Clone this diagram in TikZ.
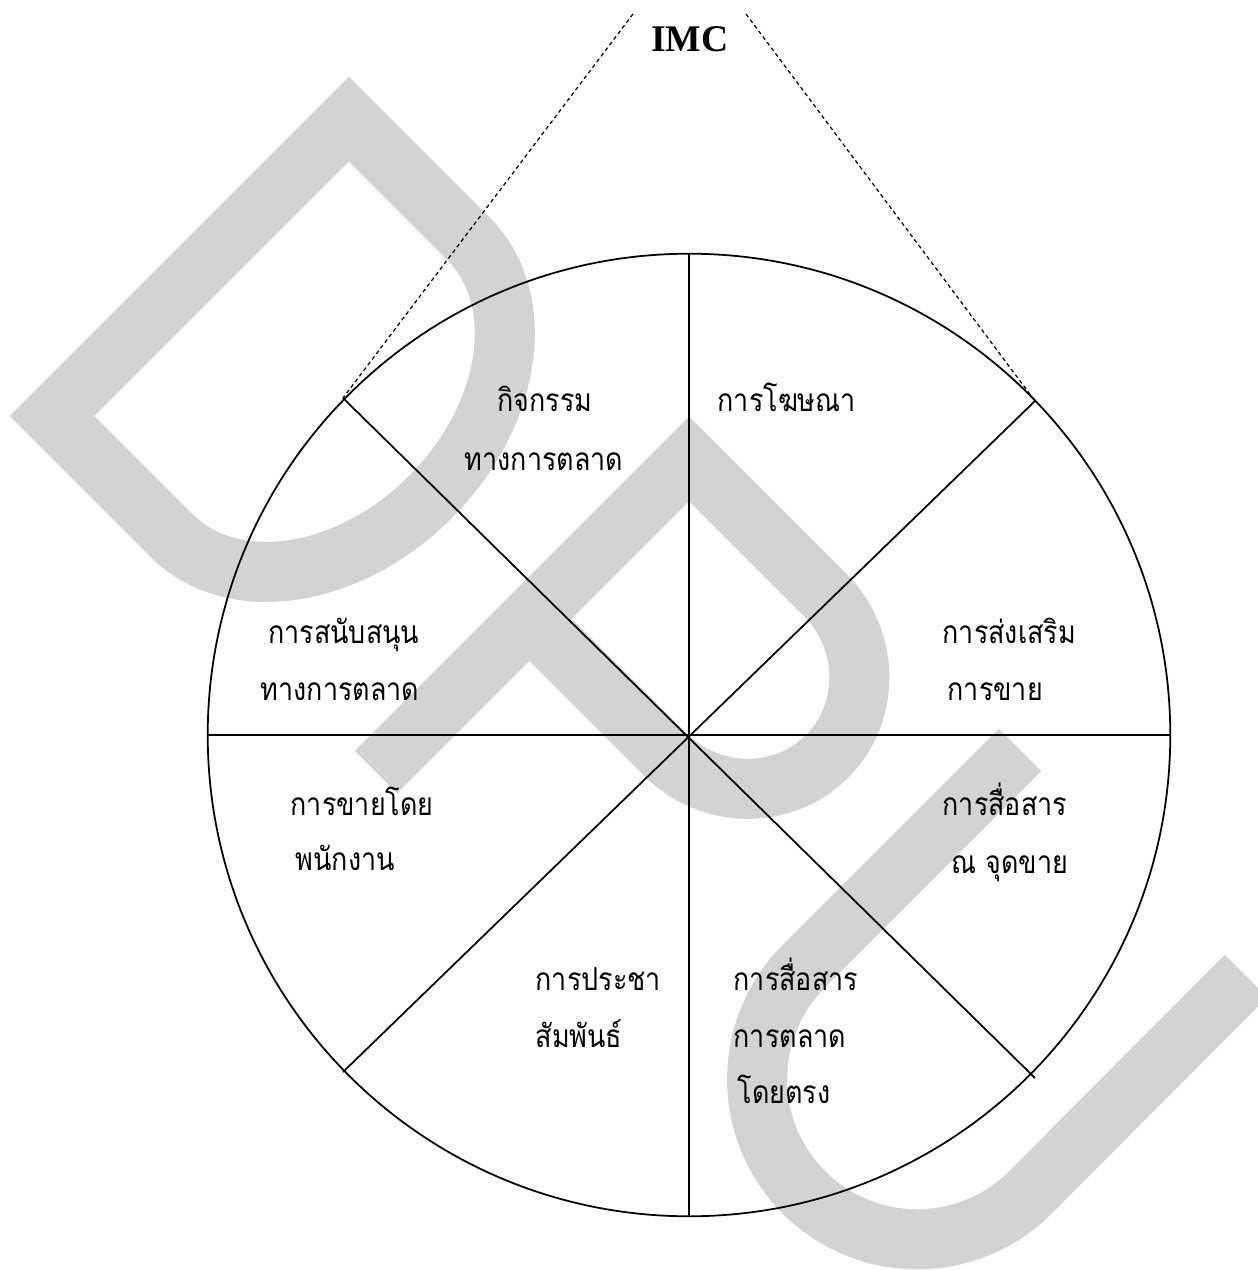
\documentclass[tikz,border=0pt]{standalone}
\usepackage{fontspec}
\setmainfont{Liberation Serif}
\newfontfamily\thaifont[Script=Thai,FakeStretch=0.85]{Loma}
\definecolor{wmgray}{RGB}{211,211,211}
\begin{document}
\begin{tikzpicture}[x=0.01cm,y=-0.01cm,
  wm/.style={line width=0.6cm, draw=wmgray, line join=miter},
  wheel/.style={line width=0.5pt, draw=black},
  guide/.style={line width=0.35pt, draw=black, dash pattern=on 1.1pt off 0.9pt},
  thai/.style={font=\thaifont\fontsize{9pt}{11pt}\selectfont, inner sep=0pt},
  title/.style={font=\bfseries\fontsize{10.7pt}{12pt}\selectfont, inner sep=0pt},
  diag/.style={x={(0.00707cm,-0.00707cm)}, y={(0.00707cm,0.00707cm)}}]
\useasboundingbox (0,0) rectangle (1258,1270);
% watermark
\begin{scope}
\clip (0,0) rectangle (1258,1270);
\begin{scope}[shift={(52,416)}, diag]
\draw[wm] (0,0) -- (0,420) -- (169,420) .. controls (255,420) and (325,326) .. (325,210)
  .. controls (325,94) and (255,0) .. (169,0) -- cycle;
\end{scope}
\begin{scope}[shift={(376,772)}, diag]
\draw[wm] (0,0) -- (0,443) -- (192,443) .. controls (256,443) and (308,392) .. (308,330)
  .. controls (308,268) and (256,217) .. (192,217) -- (0,217);
\end{scope}
\draw[wm] (1020,750) -- (804,966) arc[start angle=135, end angle=315, radius=1.6cm] -- (1246,976);
\end{scope}
% wheel
\coordinate (c) at (689,735);
\coordinate (top) at (689,254);
\coordinate (bot) at (689,1216);
\coordinate (lft) at (208,735);
\coordinate (rgt) at (1170,735);
\coordinate (ul) at (343,398);
\coordinate (lr) at (1035,1078);
\coordinate (ur) at (1035,401);
\coordinate (ll) at (343,1072);
\coordinate (gl) at (633,14);
\coordinate (gr) at (746,14);
\draw[wheel] (c) circle[radius=4.81cm];
\draw[wheel] (top) -- (bot);
\draw[wheel] (lft) -- (rgt);
\draw[wheel] (ul) -- (lr);
\draw[wheel] (ur) -- (ll);
\draw[guide] (gl) -- (ul);
\draw[guide] (gr) -- (ur);
\node[title, anchor=base] (imc) at (690,52) {IMC};
% labels
\node[thai, anchor=base] (a1) at (545,412) {กิจกรรม};
\node[thai, anchor=base] (a2) at (544,470) {ทางการตลาด};
\node[thai, anchor=base west] (b1) at (717,412) {การโฆษณา};
\node[thai, anchor=base west] (c1) at (942,643) {การส่งเสริม};
\node[thai, anchor=base west] (c2) at (947,700) {การขาย};
\node[thai, anchor=base west] (d1) at (942,815) {การสื่อสาร};
\node[thai, anchor=base west] (d2) at (951,873) {ณ จุดขาย};
\node[thai, anchor=base east] (e1) at (420,643) {การสนับสนุน};
\node[thai, anchor=base east] (e2) at (420,700) {ทางการตลาด};
\node[thai, anchor=base west] (f1) at (290,815) {การขายโดย};
\node[thai, anchor=base west] (f2) at (295,870) {พนักงาน};
\node[thai, anchor=base west] (g1) at (535,990) {การประชา};
\node[thai, anchor=base west] (g2) at (535,1047) {สัมพันธ์};
\node[thai, anchor=base west] (h1) at (733,990) {การสื่อสาร};
\node[thai, anchor=base west] (h2) at (733,1047) {การตลาด};
\node[thai, anchor=base west] (h3) at (737,1103) {โดยตรง};
\end{tikzpicture}
\end{document}
